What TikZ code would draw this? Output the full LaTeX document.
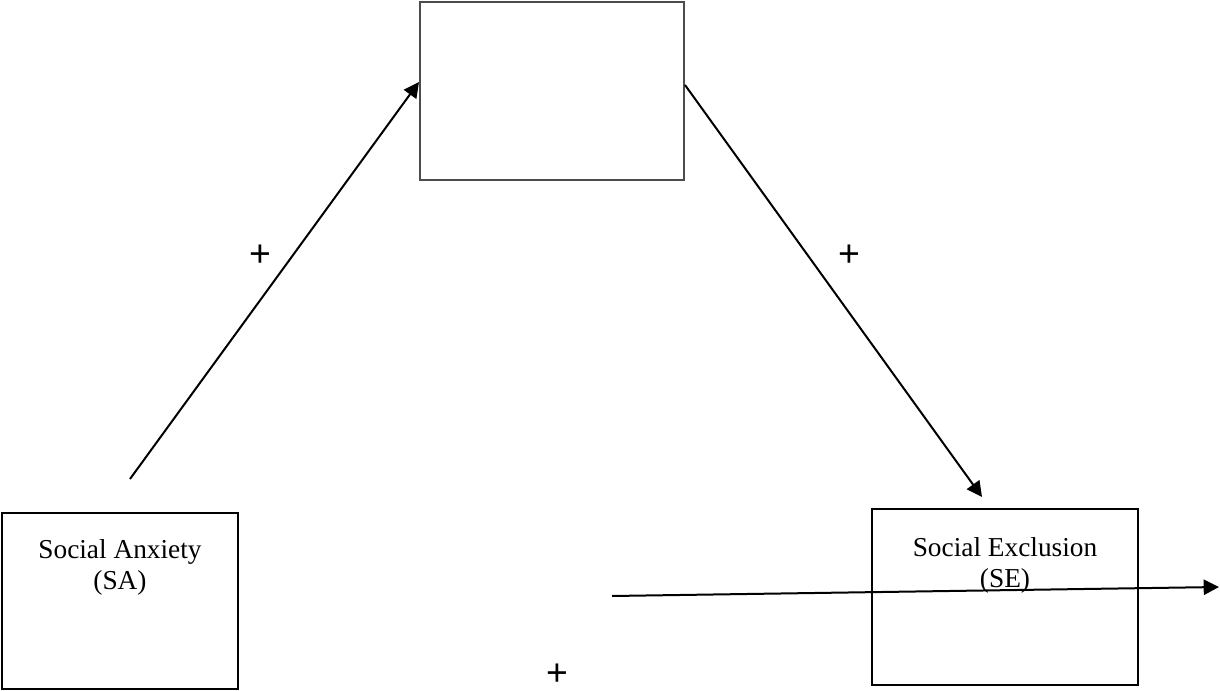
\documentclass[tikz,border=0pt]{standalone}
\usepackage{fontspec}
\setmainfont{Liberation Serif}
\newfontfamily\plusfont{Liberation Sans}
\usepackage{tikz}
\usetikzlibrary{arrows.meta, positioning, calc}

\begin{document}
\begin{tikzpicture}[
  x=0.75pt, y=-0.75pt,
  font=\fontsize{20.5}{23.3}\selectfont,
  >={Triangle[length=11.5pt, width=11.5pt]},
  varbox/.style={draw=black, line width=1.5pt, inner sep=0pt},
  boxtext/.style={align=center, anchor=north, inner sep=0pt},
  link/.style={->, line width=1.5pt},
  sign/.style={font=\plusfont\fontsize{28}{29}\selectfont, inner sep=0pt},
]
  \useasboundingbox (0,0) rectangle (1220,691);

  % --- variables ---------------------------------------------------
  \node[varbox, draw=black!70, minimum width=198pt, minimum height=133.5pt] (med) at (552,91) {};
  \node[varbox, minimum width=177pt, minimum height=132pt] (sa) at (120,601) {};
  \node[varbox, minimum width=199.5pt, minimum height=132pt] (se) at (1005,597) {};

  \node[boxtext] (satext) at ($(sa.north)+(0,27)$) {Social Anxiety\\(SA)};
  \node[boxtext] (setext) at ($(se.north)+(0,29)$) {Social Exclusion\\(SE)};

  % --- paths -------------------------------------------------------
  \coordinate (saout) at ($(sa.north)+(10,-33)$);
  \coordinate (sein) at ($(se.north)+(-23,-11)$);
  \coordinate (dstart) at (612,596);
  \coordinate (dend) at (1219,587);

  \draw[link] (saout) -- ($(med.west)+(0,-9)$);
  \draw[link] ($(med.east)+(0,-6)$) -- (sein);
  \draw[link] (dstart) -- (dend);

  \node[sign] (p1) at (260,256) {+};
  \node[sign] (p2) at (849,256) {+};
  \node[sign] (p3) at (557,675) {+};
\end{tikzpicture}
\end{document}
